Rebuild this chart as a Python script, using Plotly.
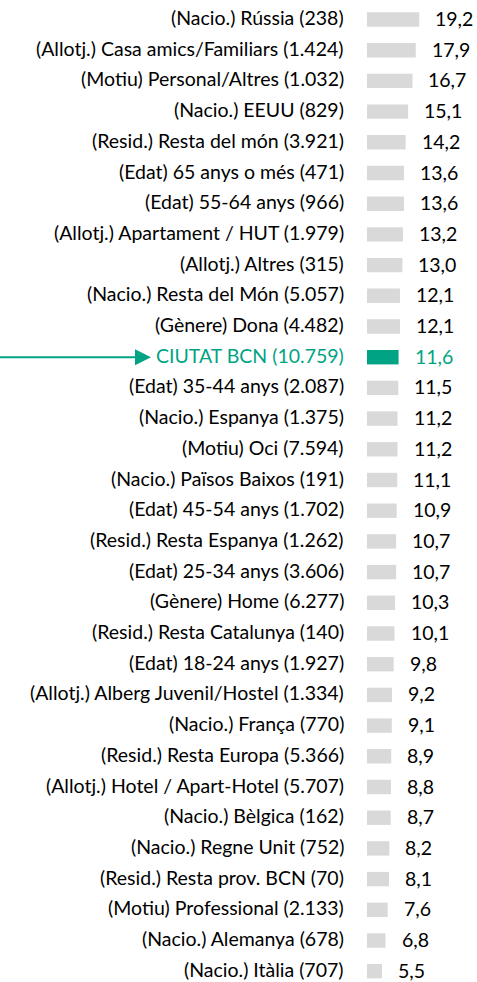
import plotly.graph_objects as go

categories = [
    "(Nacio.) Rússia (238)",
    "(Allotj.) Casa amics/Familiars (1.424)",
    "(Motiu) Personal/Altres (1.032)",
    "(Nacio.) EEUU (829)",
    "(Resid.) Resta del món (3.921)",
    "(Edat) 65 anys o més (471)",
    "(Edat) 55-64 anys (966)",
    "(Allotj.) Apartament / HUT (1.979)",
    "(Allotj.) Altres (315)",
    "(Nacio.) Resta del Món (5.057)",
    "(Gènere) Dona (4.482)",
    "CIUTAT BCN (10.759)",
    "(Edat) 35-44 anys (2.087)",
    "(Nacio.) Espanya (1.375)",
    "(Motiu) Oci (7.594)",
    "(Nacio.) Països Baixos (191)",
    "(Edat) 45-54 anys (1.702)",
    "(Resid.) Resta Espanya (1.262)",
    "(Edat) 25-34 anys (3.606)",
    "(Gènere) Home (6.277)",
    "(Resid.) Resta Catalunya (140)",
    "(Edat) 18-24 anys (1.927)",
    "(Allotj.) Alberg Juvenil/Hostel (1.334)",
    "(Nacio.) França (770)",
    "(Resid.) Resta Europa (5.366)",
    "(Allotj.) Hotel / Apart-Hotel (5.707)",
    "(Nacio.) Bèlgica (162)",
    "(Nacio.) Regne Unit (752)",
    "(Resid.) Resta prov. BCN (70)",
    "(Motiu) Professional (2.133)",
    "(Nacio.) Alemanya (678)",
    "(Nacio.) Itàlia (707)",
]
values = [19.2, 17.9, 16.7, 15.1, 14.2, 13.6, 13.6, 13.2, 13.0, 12.1, 12.1, 11.6,
          11.5, 11.2, 11.2, 11.1, 10.9, 10.7, 10.7, 10.3, 10.1, 9.8, 9.2, 9.1,
          8.9, 8.8, 8.7, 8.2, 8.1, 7.6, 6.8, 5.5]
highlight = "CIUTAT BCN (10.759)"

TEAL = "#00A383"
GRAY = "#D9D9D9"
FONT = "Lato"
FSIZE = 19.5

W, H = 477, 982
PLOT_LEFT = 367
PLOT_W = W - PLOT_LEFT
ROW0 = 19.5
ROW_PX = 30.7

colors = [TEAL if c == highlight else GRAY for c in categories]
idx = list(range(len(categories)))

fig = go.Figure(go.Bar(
    x=values, y=idx, orientation="h", marker=dict(color=colors, line=dict(width=0)),
    hoverinfo="skip",
))

annotations = []
for i, (c, v) in enumerate(zip(categories, values)):
    col = TEAL if c == highlight else "#000000"
    annotations.append(dict(x=0, y=i, xref="paper", yref="y", text=c, showarrow=False,
                            xanchor="right", yanchor="middle", xshift=-21, yshift=2,
                            font=dict(family=FONT, size=FSIZE, color=col)))
    annotations.append(dict(x=v, y=i, xref="x", yref="y", text=f"{v:.1f}".replace(".", ","),
                            showarrow=False, xanchor="left", yanchor="middle", xshift=14, yshift=1,
                            font=dict(family=FONT, size=FSIZE, color=col)))

# arrow pointing to highlighted label
hi = categories.index(highlight)
def px_to_paper(px):
    return (px - PLOT_LEFT) / PLOT_W
head_half = 8 / ROW_PX
TIP = 151
shapes = [
    dict(type="line", xref="paper", yref="y", x0=px_to_paper(0), x1=px_to_paper(TIP - 14),
         y0=hi, y1=hi, line=dict(color=TEAL, width=2)),
    dict(type="path", xref="paper", yref="y",
         path=f"M {px_to_paper(TIP - 16)},{hi - head_half} L {px_to_paper(TIP)},{hi} L {px_to_paper(TIP - 16)},{hi + head_half} Z",
         fillcolor=TEAL, line=dict(color=TEAL, width=0)),
]

n = len(categories)
top_val = -ROW0 / ROW_PX
bottom_val = (n - 1) + (H - (ROW0 + (n - 1) * ROW_PX)) / ROW_PX

fig.update_layout(
    width=W, height=H,
    margin=dict(l=PLOT_LEFT, r=0, t=0, b=0),
    plot_bgcolor="white", paper_bgcolor="white",
    bargap=0.53,
    showlegend=False,
    xaxis=dict(range=[0, 40.4], visible=False),
    yaxis=dict(range=[bottom_val, top_val], visible=False),
    annotations=annotations,
    shapes=shapes,
)

fig.write_html("out.html", config={"displayModeBar": False},
               post_script="document.body.style.margin='0';")
